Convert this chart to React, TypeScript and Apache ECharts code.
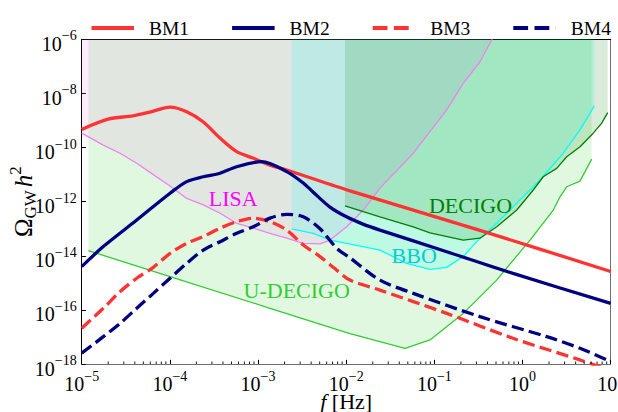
import React, { useEffect, useRef } from "react";
import * as echarts from "echarts";

// Values, stored as [log10 f/Hz, log10 Omega_GW h^2]
const bm1 = [
  [-5.0, -9.33], [-4.7, -8.95], [-4.418, -8.83], [-4.225, -8.69], [-3.998, -8.51],
  [-3.809, -8.68], [-3.624, -9.05], [-3.431, -9.65], [-3.242, -10.15], [-3.057, -10.39],
  [-2.864, -10.65], [-2.675, -10.83], [-1.957, -11.6], [-0.483, -13.06], [1.0, -14.58],
];
const bm2 = [
  [-5.0, -14.4], [-4.755, -13.66], [-4.376, -12.68], [-3.998, -11.69], [-3.809, -11.26],
  [-3.621, -11.08], [-3.431, -10.95], [-3.242, -10.71], [-2.959, -10.52], [-2.675, -10.89],
  [-2.487, -11.31], [-2.377, -11.64], [-2.184, -12.2], [-1.991, -12.57], [-1.81, -12.83],
  [-1.617, -13.05], [-0.86, -13.85], [-0.108, -14.65], [1.0, -15.76],
];
const bm3 = [
  [-5.0, -16.68], [-4.755, -15.94], [-4.566, -15.33], [-4.376, -14.83], [-4.188, -14.43],
  [-3.998, -13.91], [-3.809, -13.54], [-3.621, -13.29], [-3.431, -12.98], [-3.242, -12.74],
  [-3.054, -12.61], [-2.864, -12.74], [-2.675, -13.05], [-2.487, -13.6], [-2.297, -14.03],
  [-2.108, -14.53], [-1.957, -14.9], [-1.617, -15.27], [-0.86, -16.13], [-0.108, -17.05],
  [0.652, -17.85], [1.0, -18.25],
];
const bm4 = [
  [-5.0, -17.6], [-4.755, -16.99], [-4.566, -16.5], [-4.376, -15.94], [-4.188, -15.39],
  [-3.998, -14.83], [-3.809, -14.28], [-3.621, -13.79], [-3.431, -13.48], [-3.242, -13.17],
  [-3.054, -12.93], [-2.864, -12.61], [-2.675, -12.47], [-2.487, -12.56], [-2.297, -13.0],
  [-2.108, -13.72], [-1.957, -14.08], [-1.617, -14.9], [-1.239, -15.39], [-0.483, -16.25],
  [0.274, -16.99], [0.652, -17.42], [1.0, -17.91],
];
const lisa = [
  [-5.0, -9.47], [-4.755, -9.91], [-4.566, -10.21], [-4.376, -10.58], [-4.188, -11.0],
  [-3.998, -11.42], [-3.809, -11.88], [-3.621, -12.12], [-3.431, -12.43], [-3.242, -12.8],
  [-3.054, -12.98], [-2.864, -13.17], [-2.675, -13.35], [-2.487, -13.54], [-2.297, -13.56],
  [-2.184, -13.42], [-1.994, -12.93], [-1.806, -12.31], [-1.617, -11.5], [-1.239, -10.21],
  [-0.86, -8.61], [-0.672, -7.63], [-0.483, -6.83], [-0.345, -6.0],
];
const udecigo = [
  [-4.925, -13.81], [-3.998, -14.77], [-2.864, -15.94], [-1.957, -16.88], [-1.333, -17.42],
  [-1.05, -17.11], [-0.672, -16.13], [-0.293, -14.9], [0.085, -13.42], [0.349, -12.31],
  [0.425, -11.82], [0.501, -11.45], [0.652, -11.24], [0.784, -10.43],
];
const decigo = [
  [-2.014, -12.16], [-1.617, -12.56], [-1.239, -12.93], [-1.05, -13.15], [-0.672, -13.42],
  [-0.483, -13.35], [-0.293, -12.93], [-0.066, -12.31], [0.122, -11.57], [0.235, -11.08],
  [0.387, -10.77], [0.501, -10.34], [0.652, -9.97], [0.802, -9.47], [0.898, -9.1], [0.966, -8.71],
];
const bbo = [
  [-2.618, -13.01], [-2.373, -13.17], [-2.184, -13.42], [-1.994, -13.54], [-1.617, -13.79],
  [-1.314, -14.28], [-1.05, -14.5], [-0.86, -14.43], [-0.672, -14.03], [-0.483, -13.35],
  [-0.293, -12.8], [-0.029, -11.94], [0.198, -11.2], [0.462, -10.21], [0.652, -9.35], [0.814, -8.46],
];

// annotation anchors (text centres) in the same log10 units
const labelLISA = [-3.281, -11.894];
const labelBBO = [-1.229, -14.0];
const labelDECIGO = [-0.59, -12.153];
const labelUDECIGO = [-2.561, -15.294];

const legendNames = ["BM1", "BM2", "BM3", "BM4"];
const X_MIN = -5, X_MAX = 1, Y_MIN = -18, Y_MAX = -6;
const xMinorDecades = [-5, -4, -3, -2, -1, 0];
const xMinorMultipliers = [2, 3, 4, 5, 6, 7, 8, 9];

const FONT = "'Liberation Serif', 'Times New Roman', serif";

const expLabel = (v: number) => {
  const n = Math.round(v);
  const s = n < 0 ? "\u2212" + -n : String(n);
  return `{b|10}{s|${s}}`;
};
const tickRich = {
  b: { fontFamily: FONT, fontSize: 20, lineHeight: 29, verticalAlign: "bottom", color: "#000" },
  s: { fontFamily: FONT, fontSize: 14, lineHeight: 14, verticalAlign: "top", padding: [4, 0, 0, 0], color: "#000" },
};

const bmSeries = (name: string, pts: number[][], color: string, dashed: boolean) => ({
  name,
  type: "line",
  data: pts,
  symbol: "none",
  showSymbol: false,
  smooth: 0.3,
  clip: true,
  silent: true,
  z: 5,
  lineStyle: { color, width: 3.3, type: dashed ? [12.2, 5.3] : "solid", cap: "butt" },
  itemStyle: { color },
});

const areaSeries = (name: string, pts: number[][], color: string) => ({
  name: name + " fill",
  type: "line",
  data: pts,
  symbol: "none",
  showSymbol: false,
  clip: true,
  silent: true,
  z: 1,
  lineStyle: { width: 0, opacity: 0 },
  itemStyle: { color },
  areaStyle: { color, opacity: 0.15, origin: "end" },
});

const sensLine = (name: string, pts: number[][], color: string, label: string, pos: number[], labelColor: string) => ({
  name,
  type: "line",
  data: pts,
  symbol: "none",
  showSymbol: false,
  clip: true,
  silent: true,
  z: 3,
  lineStyle: { color, width: 1.3 },
  itemStyle: { color },
  markPoint: {
    silent: true,
    symbol: "circle",
    symbolSize: 1,
    itemStyle: { color: "rgba(0,0,0,0)" },
    label: { show: true, position: "inside", formatter: label, color: labelColor, fontSize: 22, fontFamily: FONT },
    data: [{ coord: pos }],
  },
});

const xMinorTicks = xMinorDecades.flatMap((d) => xMinorMultipliers.map((m) => d + Math.log10(m)));

const baseAxis = {
  type: "value",
  splitLine: { show: false },
  minorTick: { show: false },
};

const option = {
  animation: false,
  backgroundColor: "#ffffff",
  textStyle: { fontFamily: FONT },
  grid: { left: 81.7, right: 7.3, top: 39.3, bottom: 48, containLabel: false, outerBoundsMode: "none" },
  legend: {
    left: 89.5,
    top: 18,
    padding: 0,
    itemWidth: 42.5,
    itemHeight: 20,
    itemGap: 41,
    selectedMode: false,
    textStyle: { fontFamily: FONT, fontSize: 19.5, color: "#000", padding: [0, 0, 0, 10] },
    lineStyle: { width: 4 },
    itemStyle: { opacity: 0 },
    data: [
      { name: legendNames[0] },
      { name: legendNames[1] },
      { name: legendNames[2], lineStyle: { type: [14.8, 6.4] } },
      { name: legendNames[3], lineStyle: { type: [14.8, 6.4] } },
    ],
  },
  xAxis: [
    {
      ...baseAxis,
      position: "bottom",
      min: X_MIN,
      max: X_MAX,
      interval: 1,
      axisLine: { show: true, onZero: false, lineStyle: { color: "#707070", width: 1 } },
      axisTick: { show: true, inside: true, length: 4.2, lineStyle: { color: "#000", width: 1 } },
      axisLabel: { show: true, margin: 1, formatter: expLabel, rich: tickRich, showMinLabel: true, showMaxLabel: true, color: "#000" },
      name: "{i|f} [Hz]",
      nameLocation: "middle",
      nameGap: 26,
      nameMoveOverlap: false,
      nameTextStyle: {
        fontFamily: FONT, fontSize: 22, lineHeight: 22, color: "#000",
        rich: { i: { fontFamily: FONT, fontSize: 22, lineHeight: 22, fontStyle: "italic", color: "#000" } },
      },
    },
    {
      ...baseAxis,
      position: "top",
      min: X_MIN,
      max: X_MAX,
      interval: 1,
      axisLine: { show: true, onZero: false, lineStyle: { color: "#000", width: 1 } },
      axisTick: { show: false },
      axisLabel: { show: false },
    },
  ],
  yAxis: [
    {
      ...baseAxis,
      position: "left",
      min: Y_MIN,
      max: Y_MAX,
      interval: 2,
      axisLine: { show: true, onZero: false, lineStyle: { color: "#000", width: 1 } },
      axisTick: { show: true, inside: true, length: 4.2, lineStyle: { color: "#000", width: 1 } },
      axisLabel: { show: true, margin: 5, formatter: expLabel, rich: tickRich, showMinLabel: true, showMaxLabel: true, color: "#000" },
      name: "{o|\u03A9}{g|GW}{h|h}{p|2}",
      nameLocation: "middle",
      nameRotate: 90,
      nameGap: 41,
      nameMoveOverlap: false,
      nameTextStyle: {
        fontFamily: FONT, fontSize: 25, color: "#000",
        rich: {
          o: { fontFamily: FONT, fontSize: 25, lineHeight: 34, verticalAlign: "middle", color: "#000" },
          g: { fontFamily: FONT, fontSize: 17, lineHeight: 17, verticalAlign: "bottom", padding: [0, 0, 1.5, 0], color: "#000" },
          h: { fontFamily: FONT, fontSize: 25, lineHeight: 34, verticalAlign: "middle", fontStyle: "italic", padding: [0, 0, 0, 3], color: "#000" },
          p: { fontFamily: FONT, fontSize: 17, lineHeight: 17, verticalAlign: "top", color: "#000" },
        },
      },
    },
    {
      ...baseAxis,
      position: "right",
      min: Y_MIN,
      max: Y_MAX,
      interval: 2,
      axisLine: { show: true, onZero: false, lineStyle: { color: "#707070", width: 1 } },
      axisTick: { show: false },
      axisLabel: { show: false },
    },
  ],
  series: [
    areaSeries("U-DECIGO", udecigo, "#32cd32"),
    areaSeries("LISA", lisa, "#ee82ee"),
    areaSeries("BBO", bbo, "#00ffff"),
    areaSeries("DECIGO", decigo, "#008000"),
    sensLine("U-DECIGO", udecigo, "#32cd32", "U-DECIGO", labelUDECIGO, "#32cd32"),
    sensLine("LISA", lisa, "#ee82ee", "LISA", labelLISA, "#ff00ff"),
    sensLine("BBO", bbo, "#00ffff", "BBO", labelBBO, "#00ced1"),
    sensLine("DECIGO", decigo, "#008000", "DECIGO", labelDECIGO, "#008000"),
    bmSeries("BM1", bm1, "#ff3333", false),
    bmSeries("BM2", bm2, "#000080", false),
    bmSeries("BM3", bm3, "#ff3333", true),
    bmSeries("BM4", bm4, "#000080", true),
    {
      type: "custom",
      silent: true,
      z: 20,
      clip: false,
      data: xMinorTicks.map((v) => [v, Y_MIN]),
      encode: { x: 0, y: 1 },
      renderItem: (_params: any, api: any) => {
        const p = api.coord([api.value(0), api.value(1)]);
        return {
          type: "line",
          shape: { x1: p[0], y1: p[1], x2: p[0], y2: p[1] - 2.5 },
          style: { stroke: "#000", lineWidth: 0.9 },
        };
      },
    },
  ],
};

export default function App() {
  const ref = useRef<HTMLDivElement>(null);
  useEffect(() => {
    if (!ref.current) return;
    const chart = echarts.init(ref.current, null, { renderer: "svg" });
    chart.setOption(option as any);
    return () => chart.dispose();
  }, []);
  return (
    <div
      ref={ref}
      style={{ position: "fixed", left: 0, top: 0, width: 618, height: 412, background: "#fff" }}
    />
  );
}
